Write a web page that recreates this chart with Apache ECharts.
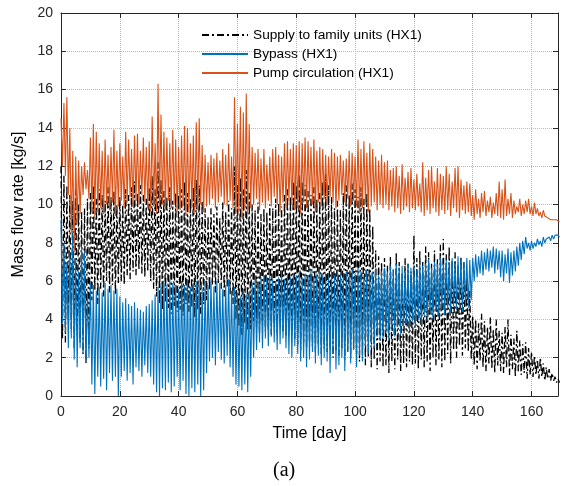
<!DOCTYPE html>
<html>
<head>
<meta charset="utf-8">
<script src="https://cdn.jsdelivr.net/npm/echarts@6/dist/echarts.min.js"></script>
<style>html,body{margin:0;padding:0;background:#fff}#c{width:563px;height:486px}</style>
</head>
<body>
<div id="c"></div>
<script>
// Daily peak (Hi) and trough (Lo) values, days 0..169
const seriesNames = ["Supply to family units (HX1)", "Bypass (HX1)", "Pump circulation (HX1)"];
const xTicks = [0, 20, 40, 60, 80, 100, 120, 140, 160];
const yTicks = [0, 2, 4, 6, 8, 10, 12, 14, 16, 18, 20];

const pumpHi = [
14.5,15.3,15.6,14.0,12.8,12.5,12.3,12.0,12.2,11.8,
13.5,14.2,13.8,13.2,12.8,13.4,12.6,13.0,13.9,12.8,
13.2,12.5,13.8,13.4,12.9,13.6,13.7,12.8,13.5,13.0,
13.3,14.6,13.2,16.3,14.7,13.8,13.5,13.2,13.9,13.4,
13.0,13.6,14.1,14.0,13.2,13.6,14.3,14.5,13.1,12.6,
12.2,12.6,12.4,12.7,12.3,12.9,12.6,13.2,12.5,15.6,
14.2,15.1,14.8,15.8,14.2,13.0,12.7,12.9,12.4,12.9,
12.1,12.5,12.9,13.0,12.6,12.5,13.2,13.3,12.9,13.2,
13.1,13.3,13.2,13.5,13.3,13.0,13.4,12.8,13.0,12.9,
12.6,12.5,12.9,12.7,12.5,12.6,12.3,12.4,12.8,12.7,
12.5,13.4,12.9,13.3,12.7,13.2,12.9,12.5,12.3,12.6,
12.2,12.3,11.8,11.9,12.0,11.5,12.1,11.4,11.7,11.9,
11.3,11.6,11.1,12.2,11.4,11.8,12.0,11.2,11.9,11.6,
11.5,12.0,11.6,11.2,11.9,12.0,11.3,11.0,11.2,11.1,
10.5,10.8,10.3,10.6,10.7,10.2,10.4,10.1,10.6,11.2,
10.8,11.3,10.3,10.6,10.2,9.9,10.3,10.0,10.2,10.3,
9.9,10.1,9.8,9.6,9.7,9.5,9.4,9.3,9.3,9.2];
const pumpLo = [
12.0,11.5,10.5,8.5,7.5,9.0,9.5,10.5,10.8,10.3,
9.6,9.3,9.6,9.8,9.5,10.0,9.7,10.1,9.4,9.9,
10.2,9.8,10.1,10.4,9.9,10.2,10.0,10.5,10.1,9.8,
9.6,9.9,9.5,9.8,10.0,9.7,10.2,9.8,10.0,9.6,
9.7,9.9,9.4,9.6,9.8,9.5,9.7,10.0,9.6,9.9,
10.0,10.3,9.8,10.1,10.4,10.0,9.9,10.2,9.8,9.5,
9.6,9.3,9.7,9.5,9.8,10.0,10.3,9.7,10.1,9.8,
10.2,9.9,10.4,10.0,9.6,10.1,9.8,10.2,10.0,9.7,
9.8,9.5,10.1,9.8,10.2,10.0,9.6,10.1,9.9,10.3,
10.0,10.4,10.1,9.8,10.2,10.5,10.1,10.3,9.9,10.2,
9.9,9.5,9.8,10.0,9.6,9.9,10.1,9.7,10.0,9.8,
10.0,9.7,9.9,9.6,9.8,9.5,9.7,9.9,9.6,9.8,
9.7,9.9,9.6,9.4,9.7,9.5,9.8,9.6,9.4,9.7,
9.5,9.7,9.4,9.8,9.6,9.3,9.7,9.5,9.6,9.4,
9.2,9.5,9.3,9.6,9.4,9.6,9.3,9.5,9.4,9.3,
9.2,9.4,9.5,9.3,9.5,9.6,9.4,9.5,9.6,9.5,
9.4,9.5,9.4,9.3,9.4,9.3,9.2,9.2,9.2,9.1];
const bypassHi = [
9.2,8.0,7.0,7.5,8.5,7.2,6.5,7.8,7.5,5.5,
6.0,5.8,5.5,5.7,5.4,5.9,5.6,5.8,5.5,5.6,
5.2,4.9,5.1,4.8,4.7,4.9,4.6,4.5,4.4,4.7,
4.8,5.0,5.3,5.7,5.9,6.0,5.8,6.1,5.9,5.8,
5.6,6.0,5.8,6.1,5.7,5.9,6.0,5.8,5.6,6.0,
5.8,6.1,5.7,6.0,5.9,5.6,5.8,6.1,5.5,5.7,
5.4,5.2,5.6,5.3,5.5,5.9,6.1,5.8,6.2,6.3,
6.2,6.3,6.1,6.0,6.2,6.4,6.1,6.3,6.2,6.4,
6.3,6.5,6.2,6.4,6.3,6.6,6.2,6.4,6.5,6.3,
6.4,6.2,6.5,6.3,6.6,6.4,6.2,6.5,6.3,6.6,
6.4,6.7,6.5,6.3,6.6,6.4,6.5,6.6,6.3,6.5,
6.7,6.5,6.8,6.6,6.9,6.7,6.8,6.5,6.9,6.7,
6.8,6.6,7.0,6.8,6.9,7.1,6.7,7.0,6.9,7.2,
6.9,7.1,7.0,7.2,6.9,7.3,7.1,7.0,7.2,7.1,
7.2,7.4,7.3,7.6,7.5,7.7,7.6,7.8,7.7,7.6,
7.6,7.4,7.7,7.5,7.6,7.8,8.0,8.1,8.3,8.0,
8.1,8.0,8.2,8.1,8.3,8.2,8.3,8.4,8.4,8.4];
const bypassLo = [
3.8,3.3,2.5,3.0,1.9,1.5,2.5,2.2,1.8,2.0,
0.6,0.1,1.0,0.5,0.9,0.3,1.2,0.8,1.0,0.0,
1.0,1.3,0.8,1.2,0.6,1.5,1.3,1.0,1.6,1.2,
1.0,0.6,0.2,0.0,0.4,0.3,0.7,0.2,0.5,1.0,
0.3,0.8,0.1,0.0,0.4,0.2,0.6,0.0,0.3,1.2,
1.8,2.0,1.6,2.3,1.9,1.7,2.1,1.5,1.0,0.6,
0.5,0.3,0.6,0.2,1.0,2.0,2.4,2.8,2.5,3.0,
2.6,3.1,2.8,2.4,2.7,3.0,2.5,2.2,2.0,2.6,
2.2,1.8,2.0,1.5,1.9,2.3,1.7,2.1,1.6,2.0,
1.8,1.2,2.2,1.4,1.6,2.0,1.3,2.3,1.7,2.4,
1.5,2.1,1.8,2.6,2.2,2.8,2.5,3.1,2.9,3.0,
3.3,2.9,3.4,3.1,3.6,3.2,3.5,3.8,3.4,3.9,
3.6,4.0,3.7,4.2,3.9,4.3,4.0,4.4,4.1,4.5,
4.2,4.6,4.3,4.7,4.5,4.8,4.4,4.9,4.6,5.0,
6.0,6.2,6.4,6.3,6.6,6.5,6.7,6.4,6.6,6.2,
6.0,6.4,5.9,6.3,6.5,6.8,7.1,7.4,7.7,7.6,
7.7,7.8,7.9,7.8,8.0,8.1,8.1,8.2,8.3,8.3];
const supplyHi = [
12.0,11.5,11.0,10.5,10.2,10.8,10.0,9.6,9.8,10.3,
10.6,11.0,10.3,10.8,10.5,10.2,10.9,10.4,10.7,10.0,
10.4,10.0,10.8,10.5,10.9,11.2,10.6,11.0,10.5,10.3,
10.9,11.5,10.8,12.2,11.3,10.7,10.4,10.9,10.2,10.6,
10.5,10.8,11.2,10.6,10.3,10.9,11.3,11.0,10.2,9.8,
9.4,9.8,9.5,9.9,9.3,10.1,9.6,10.2,9.8,12.0,
11.0,11.4,10.8,11.8,10.6,10.0,9.7,10.1,9.5,9.8,
9.6,10.0,9.8,10.3,10.1,9.9,10.5,10.8,10.4,11.2,
11.0,11.6,11.2,11.0,10.7,10.5,10.9,10.3,10.6,11.2,
11.6,11.0,10.4,9.8,10.2,9.7,10.6,11.0,10.5,11.1,
10.8,10.4,10.9,10.3,10.6,9.8,8.9,7.6,7.3,7.0,
7.2,6.8,7.3,6.6,7.5,7.0,6.4,7.2,6.9,6.5,
8.4,7.2,7.6,7.0,7.8,7.5,6.9,7.6,7.2,7.9,
8.2,7.4,7.8,7.1,7.5,6.8,7.3,7.0,6.2,5.5,
4.2,4.0,3.8,4.3,3.9,3.6,4.1,3.5,4.0,3.4,
3.3,3.6,4.0,3.2,3.0,3.4,2.9,2.7,2.8,2.5,
2.3,2.1,1.9,2.0,1.7,1.5,1.4,1.2,1.0,0.9];
const supplyLo = [
3.0,2.8,4.0,3.5,2.5,3.2,2.8,2.2,1.7,2.5,
5.0,5.5,4.8,5.6,5.2,6.0,5.4,5.8,5.3,5.9,
6.0,5.8,6.3,6.1,6.5,6.3,6.6,6.4,6.2,6.5,
6.0,5.6,5.2,4.8,4.5,4.9,4.6,4.3,4.7,4.4,
4.5,4.2,4.8,4.4,4.6,4.1,4.5,4.3,4.8,5.0,
5.5,5.8,5.4,5.9,5.6,5.2,5.7,5.3,4.8,4.0,
3.6,3.2,3.8,3.4,3.5,3.9,3.6,3.3,3.7,3.4,
3.5,3.2,3.6,3.3,3.8,3.4,3.1,3.5,3.2,3.0,
2.7,2.4,2.8,2.5,2.9,2.6,2.3,2.7,2.2,2.5,
2.3,2.6,2.0,2.4,2.1,2.5,1.9,2.3,2.0,2.4,
2.2,1.8,2.1,1.6,2.0,1.5,1.9,1.4,1.8,1.5,
1.6,1.2,1.8,1.4,1.9,1.3,1.7,1.5,1.8,1.6,
1.7,1.4,1.9,1.5,1.8,1.3,2.0,1.6,1.9,1.5,
1.8,2.2,1.7,2.4,2.0,2.6,2.1,2.5,2.3,1.9,
1.6,1.4,1.8,1.5,1.3,1.7,1.4,1.2,1.6,1.3,
1.2,1.5,1.1,1.4,1.0,1.3,1.1,1.2,0.9,1.1,
1.0,1.1,0.9,1.0,0.8,0.9,0.8,0.8,0.7,0.7];

function zigzag(hi, lo) {
  const out = [];
  for (let i = 0; i < hi.length; i++) {
    out.push([i, hi[i]]);
    out.push([i + 0.5, lo[i]]);
  }
  return out;
}

const FONT = "'Liberation Sans', Arial, sans-serif";
const AX = '#262626';
const chart = echarts.init(document.getElementById('c'), null, {renderer: 'canvas'});
const common = {
  min: 0,
  axisLine: {show: true, onZero: false, lineStyle: {color: AX, width: 1}},
  axisTick: {show: true, inside: true, length: 5, lineStyle: {color: AX}},
};
chart.setOption({
  animation: false,
  backgroundColor: '#fff',
  grid: {left: 61, right: 5, top: 13, bottom: 90, containLabel: false},
  legend: {
    orient: 'vertical', left: 196, top: 23,
    itemWidth: 46, itemHeight: 14, itemGap: 5,
    itemStyle: {opacity: 0},
    textStyle: {fontFamily: FONT, fontSize: 13.7, color: '#000'},
    data: seriesNames
  },
  xAxis: [
    Object.assign({}, common, {
      type: 'value', max: 169, interval: 20, position: 'bottom',
      name: 'Time [day]', nameLocation: 'middle', nameGap: 30,
      nameTextStyle: {fontFamily: FONT, fontSize: 16, color: '#000'},
      axisLabel: {fontFamily: FONT, fontSize: 14, color: AX, margin: 9, showMaxLabel: false,
        formatter: v => xTicks.indexOf(v) >= 0 ? String(v) : ''},
      splitLine: {show: true, lineStyle: {type: 'dotted', color: '#b8b8b8', width: 1}}
    }),
    Object.assign({}, common, {
      type: 'value', max: 169, interval: 20, position: 'top',
      axisLabel: {show: false}, splitLine: {show: false}
    })
  ],
  yAxis: [
    Object.assign({}, common, {
      type: 'value', max: 20, interval: 2, position: 'left',
      name: 'Mass flow rate [kg/s]', nameLocation: 'middle', nameGap: 27,
      nameTextStyle: {fontFamily: FONT, fontSize: 16, color: '#000'},
      axisLabel: {fontFamily: FONT, fontSize: 14, color: AX, margin: 8,
        formatter: v => yTicks.indexOf(v) >= 0 ? String(v) : ''},
      splitLine: {show: true, lineStyle: {type: 'dotted', color: '#b8b8b8', width: 1}}
    }),
    Object.assign({}, common, {
      type: 'value', max: 20, interval: 2, position: 'right',
      axisLabel: {show: false}, splitLine: {show: false}
    })
  ],
  series: [
    {
      name: seriesNames[0], type: 'line', symbol: 'none', z: 2,
      data: zigzag(supplyHi, supplyLo),
      itemStyle: {color: '#000'},
      lineStyle: {color: '#000', width: 1.3, type: [7, 3, 2, 3]}
    },
    {
      name: seriesNames[1], type: 'line', symbol: 'none', z: 3,
      data: zigzag(bypassHi, bypassLo),
      itemStyle: {color: '#0072BD'},
      lineStyle: {color: '#0072BD', width: 1.1}
    },
    {
      name: seriesNames[2], type: 'line', symbol: 'none', z: 4,
      data: zigzag(pumpHi, pumpLo),
      itemStyle: {color: '#D95319'},
      lineStyle: {color: '#D95319', width: 1.1}
    }
  ],
  graphic: [{
    type: 'text', left: 273, top: 461,
    style: {text: '(a)', font: "20px 'Liberation Serif', 'Times New Roman', serif", fill: '#000'}
  }]
});
</script>
</body>
</html>
